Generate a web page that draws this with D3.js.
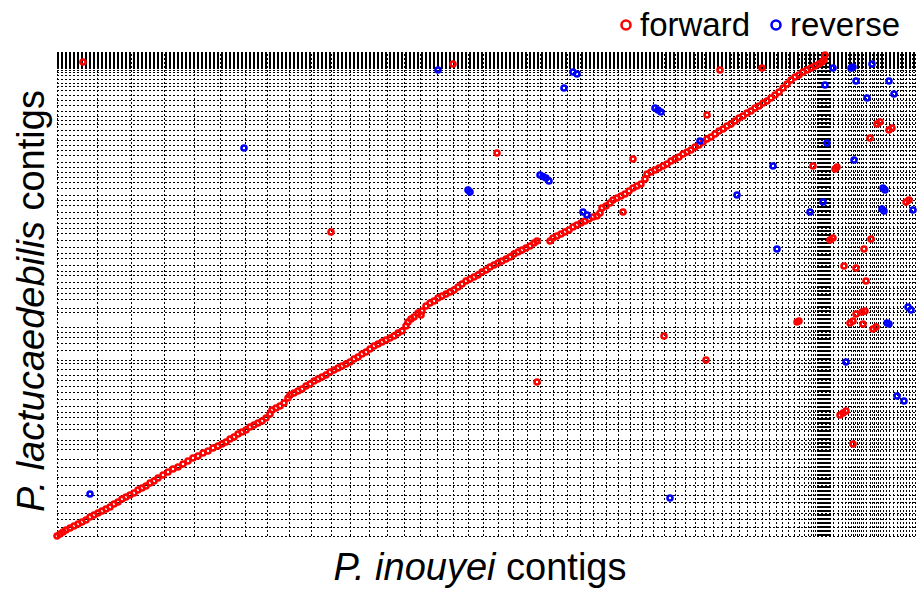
<!DOCTYPE html>
<html>
<head>
<meta charset="utf-8">
<script src="https://cdn.jsdelivr.net/npm/d3@7"></script>
<style>
  body { margin: 0; background: #fff; }
  svg { display: block; font-family: "Liberation Sans", Arial, sans-serif; }
</style>
</head>
<body>
<div id="chart"></div>
<script>
// contig end positions (Mb) along each assembly
const xContigEnds = [0, 2.0, 3.7, 5.35, 6.85, 8.15, 9.4, 10.5, 11.6, 12.7, 13.7, 14.65, 15.6, 16.5,
  17.35, 18.15, 19.0, 19.8, 20.55, 21.3, 22.05, 22.8, 23.5, 24.15, 24.8, 25.5, 26.15, 26.8, 27.45,
  28.05, 28.65, 29.25, 29.8, 30.35, 30.9, 31.4, 31.9, 32.35, 32.8, 33.25, 33.7, 34.1, 34.5, 34.9,
  35.25, 35.6, 35.95, 36.25, 36.55, 36.85, 37.1, 37.35, 37.55, 37.7, 37.8, 37.9, 37.975, 38.05,
  38.1, 38.15, 38.2, 38.25, 38.3, 38.35, 38.4, 38.45, 38.5, 38.55, 38.6, 38.65, 38.8, 39.05, 39.25,
  39.4, 39.55, 39.7, 39.8, 39.9, 40.0, 40.1, 40.2, 40.3, 40.45, 40.65, 40.75, 40.85, 40.95, 41.05,
  41.15, 41.3, 41.45, 41.6, 41.8, 42.0, 42.15, 42.3, 42.45, 42.6, 42.75, 42.9];
const yContigEnds = [0, 0.9, 1.7, 2.3, 3.4, 4.1, 5.1, 5.9, 6.9, 7.7, 8.7, 9.2, 9.6, 10.7, 11.2, 11.9,
  12.4, 13.0, 13.7, 14.4, 15.0, 15.6, 16.1, 16.7, 17.3, 17.6, 18.6, 19.3, 19.9, 20.4, 20.9, 22.4,
  22.8, 23.7, 24.3, 24.8, 25.4, 26.1, 26.5, 27.1, 27.8, 28.3, 28.9, 29.6, 30.3, 30.8, 31.3, 31.8,
  32.4, 33.1, 33.6, 34.1, 34.8, 35.4, 35.9, 36.4, 36.9, 37.4, 38.1, 38.6, 39.1, 39.6, 40.1, 40.6,
  41.2, 41.6, 42.0, 42.5, 43.1, 43.6, 44.1, 44.6, 45.0, 45.3, 45.7, 46.1, 46.4, 46.6, 46.75, 46.9,
  47.0, 47.1, 47.2, 47.3, 47.4, 47.5, 47.6, 47.7, 47.8, 47.9, 48.0, 48.1, 48.2, 48.3, 48.4];
const xTotal = 43.0;
const yTotal = 48.4;

// alignment hits [inouyei Mb, lactucaedebilis Mb]
const forwardHits = [
  [0, 0], [0.15, 0.2], [0.3, 0.4], [0.45, 0.6], [0.65, 0.8], [0.85, 1.0], [1.05, 1.2], [1.25, 1.4],
  [1.45, 1.6], [1.65, 1.9], [1.85, 2.1], [2.05, 2.3], [2.25, 2.5], [2.45, 2.7], [2.65, 2.9],
  [2.85, 3.2], [3.05, 3.4], [3.25, 3.7], [3.45, 3.9], [3.65, 4.1], [3.85, 4.3], [4.05, 4.6],
  [4.25, 4.8], [4.45, 5.0], [4.65, 5.3], [4.85, 5.5], [5.05, 5.8], [5.3, 6.1], [5.55, 6.4],
  [5.8, 6.7], [6.05, 6.9], [6.3, 7.2], [6.55, 7.5], [6.8, 7.8], [7.05, 8.0], [7.3, 8.3], [7.55, 8.5],
  [7.8, 8.8], [8.05, 9.0], [8.25, 9.2], [8.45, 9.4], [8.65, 9.7], [8.85, 9.9], [9.05, 10.2],
  [9.25, 10.4], [9.45, 10.6], [9.65, 10.9], [9.85, 11.1], [10.05, 11.3], [10.25, 11.5],
  [10.45, 11.8], [10.65, 12.2], [10.75, 12.6], [10.95, 12.8], [11.15, 13.0], [11.35, 13.3],
  [11.55, 13.8], [11.65, 14.1], [11.85, 14.3], [12.05, 14.5], [12.25, 14.7], [12.45, 15.0],
  [12.65, 15.2], [12.85, 15.5], [13.05, 15.7], [13.25, 15.9], [13.45, 16.1], [13.65, 16.4],
  [13.85, 16.6], [14.05, 16.8], [14.25, 17.0], [14.45, 17.2], [14.65, 17.4], [14.85, 17.7],
  [15.05, 17.9], [15.25, 18.2], [15.45, 18.4], [15.65, 18.7], [15.85, 19.0], [16.05, 19.2],
  [16.25, 19.4], [16.45, 19.6], [16.65, 19.8], [16.85, 20.0], [17.05, 20.3], [17.25, 20.5],
  [17.45, 21.0], [17.55, 21.4], [17.7, 21.7], [17.85, 21.9], [18.05, 22.3], [18.2, 22.1],
  [18.25, 22.5], [18.45, 23.0], [18.65, 23.3], [18.85, 23.5], [19.05, 23.8], [19.25, 24.0],
  [19.45, 24.2], [19.65, 24.4], [19.85, 24.6], [20.05, 24.9], [20.25, 25.2], [20.45, 25.5],
  [20.65, 25.7], [20.85, 25.9], [21.05, 26.1], [21.25, 26.4], [21.45, 26.6], [21.65, 26.9],
  [21.85, 27.1], [22.05, 27.3], [22.25, 27.5], [22.45, 27.7], [22.65, 27.9], [22.85, 28.2],
  [23.05, 28.4], [23.25, 28.6], [23.45, 28.8], [23.65, 29.0], [23.85, 29.3], [24.0, 29.5],
  [24.65, 29.5], [24.8, 29.8], [25.0, 30.0], [25.2, 30.2], [25.4, 30.4], [25.6, 30.6], [25.8, 30.9],
  [26.0, 31.1], [26.2, 31.3], [26.4, 31.5], [26.6, 31.7], [26.8, 31.9], [27.0, 32.0], [27.15, 32.3],
  [27.25, 32.8], [27.45, 33.0], [27.65, 33.3], [27.8, 33.6], [28.0, 33.8], [28.2, 34.0],
  [28.4, 34.2], [28.6, 34.5], [28.8, 34.8], [29.0, 35.0], [29.2, 35.2], [29.4, 35.7], [29.5, 36.2],
  [29.7, 36.4], [29.9, 36.6], [30.1, 36.8], [30.3, 37.0], [30.5, 37.2], [30.7, 37.5], [30.9, 37.7],
  [31.1, 37.9], [31.3, 38.2], [31.5, 38.4], [31.7, 38.6], [31.9, 38.9], [32.1, 39.1], [32.3, 39.4],
  [32.5, 39.7], [32.7, 39.9], [32.9, 40.2], [33.1, 40.5], [33.3, 40.7], [33.5, 41.0], [33.7, 41.2],
  [33.9, 41.5], [34.1, 41.8], [34.3, 42.0], [34.5, 42.3], [34.7, 42.5], [34.9, 42.8], [35.1, 43.0],
  [35.3, 43.3], [35.5, 43.5], [35.7, 43.8], [35.9, 44.1], [36.1, 44.4], [36.3, 44.8], [36.5, 45.2],
  [36.7, 45.6], [36.9, 45.9], [37.1, 46.1], [37.3, 46.4], [37.5, 46.6], [37.7, 46.8], [37.9, 47.0],
  [38.1, 47.2], [38.25, 47.4], [38.35, 47.6], [38.4, 48.1],
  // off-diagonal forward hits
  [1.3, 47.4], [19.8, 47.2], [22.0, 38.3], [28.8, 37.7], [28.3, 32.4], [13.7, 30.4], [33.15, 46.6],
  [35.25, 46.8], [32.5, 42.1], [30.35, 20.0], [32.45, 17.6], [24.0, 15.4],
  [40.65, 39.8], [41.0, 41.2], [41.15, 41.4], [41.6, 40.6], [41.75, 40.8], [37.8, 37.0],
  [38.9, 36.7], [39.0, 36.9], [42.45, 33.4], [42.6, 33.6], [38.65, 29.6], [38.8, 29.8],
  [40.7, 29.7], [40.35, 28.7], [39.35, 27.0], [39.95, 26.8], [40.45, 25.5], [37.0, 21.4],
  [37.1, 21.5], [40.25, 22.4], [40.4, 22.5], [39.95, 22.2], [39.65, 21.3], [39.8, 21.5],
  [40.3, 21.2], [40.8, 20.7], [40.95, 20.9], [39.15, 12.1], [39.3, 12.3], [39.45, 12.5], [39.8, 9.2]
];
const reverseHits = [
  [19.05, 46.6], [25.8, 46.4], [26.0, 46.2], [25.35, 44.8], [29.9, 42.8], [30.05, 42.6],
  [30.2, 42.4], [9.35, 38.8], [20.55, 34.6], [20.65, 34.4], [24.15, 36.1], [24.3, 35.95],
  [24.45, 35.8], [24.6, 35.5], [26.3, 32.4], [26.5, 32.1], [32.15, 39.5], [34.0, 34.1],
  [1.65, 4.2], [30.65, 3.8],
  [38.8, 46.8], [39.7, 46.8], [39.8, 46.9], [40.75, 47.2], [38.4, 45.1], [39.95, 45.5],
  [41.6, 45.5], [40.5, 43.8], [41.85, 44.2], [38.5, 39.3], [39.85, 37.6], [35.8, 37.0],
  [41.3, 34.8], [41.4, 34.6], [38.3, 33.4], [37.65, 32.4], [41.25, 32.7], [41.35, 32.5],
  [42.8, 32.6], [36.0, 28.7], [42.55, 22.9], [42.7, 22.6], [41.5, 21.3], [41.6, 21.2],
  [39.45, 17.4], [42.0, 14.0], [42.35, 13.5]
];
const legendLabels = ['forward', 'reverse'];
const strandColors = ['#ff0000', '#0000ff'];
const xTitle = ['P. inouyei', ' contigs'];
const yTitle = ['P. lactucaedebilis', ' contigs'];

const width = 917, height = 591;
const margin = { top: 52, right: 0, bottom: 55, left: 57 };
const innerWidth = width - margin.left - margin.right;
const innerHeight = height - margin.top - margin.bottom;

const svg = d3.select('#chart').append('svg')
  .attr('width', width)
  .attr('height', height);

const g = svg.append('g')
  .attr('transform', `translate(${margin.left},${margin.top})`);

const x = d3.scaleLinear().domain([0, xTotal]).range([0, innerWidth]);
const y = d3.scaleLinear().domain([0, yTotal]).range([innerHeight, 0]);

// contig boundaries as dotted lines
const snap = (v) => Math.round(v) + 0.5;
g.append('g').attr('class', 'x-contigs')
  .selectAll('line').data(xContigEnds).join('line')
  .attr('x1', (d) => snap(x(d))).attr('x2', (d) => snap(x(d)))
  .attr('y1', innerHeight).attr('y2', 0)
  .attr('stroke', '#000').attr('stroke-width', 1)
  .attr('stroke-dasharray', '2 2');

g.append('g').attr('class', 'y-contigs')
  .selectAll('line').data(yContigEnds).join('line')
  .attr('y1', (d) => snap(y(d))).attr('y2', (d) => snap(y(d)))
  .attr('x1', 0).attr('x2', innerWidth)
  .attr('stroke', '#000').attr('stroke-width', 1)
  .attr('stroke-dasharray', '2 2');

// hits
[forwardHits, reverseHits].forEach((hits, i) => {
  g.append('g').attr('class', legendLabels[i])
    .selectAll('circle').data(hits).join('circle')
    .attr('cx', (d) => x(d[0]))
    .attr('cy', (d) => y(d[1]))
    .attr('r', 2.5)
    .attr('fill', 'none')
    .attr('stroke', strandColors[i])
    .attr('stroke-width', 2.6);
});

// legend
const legend = svg.append('g').attr('transform', 'translate(626,25)');
const legendX = [0, 150];
legendLabels.forEach((label, i) => {
  const item = legend.append('g').attr('transform', `translate(${legendX[i]},0)`);
  item.append('circle').attr('r', 4.5)
    .attr('fill', 'none').attr('stroke', strandColors[i]).attr('stroke-width', 2.6);
  item.append('text').attr('x', 14).attr('y', 11)
    .attr('font-size', 33).attr('fill', '#000').text(label);
});

// axis titles
const xt = svg.append('text')
  .attr('x', margin.left + innerWidth / 2 - 7).attr('y', 580)
  .attr('text-anchor', 'middle').attr('font-size', 38);
xt.append('tspan').attr('font-style', 'italic').text(xTitle[0]);
xt.append('tspan').text(xTitle[1]);

const yt = svg.append('text')
  .attr('transform', `translate(44,${margin.top + innerHeight / 2 + 7}) rotate(-90)`)
  .attr('text-anchor', 'middle').attr('font-size', 38);
yt.append('tspan').attr('font-style', 'italic').text(yTitle[0]);
yt.append('tspan').text(yTitle[1]);
</script>
</body>
</html>
